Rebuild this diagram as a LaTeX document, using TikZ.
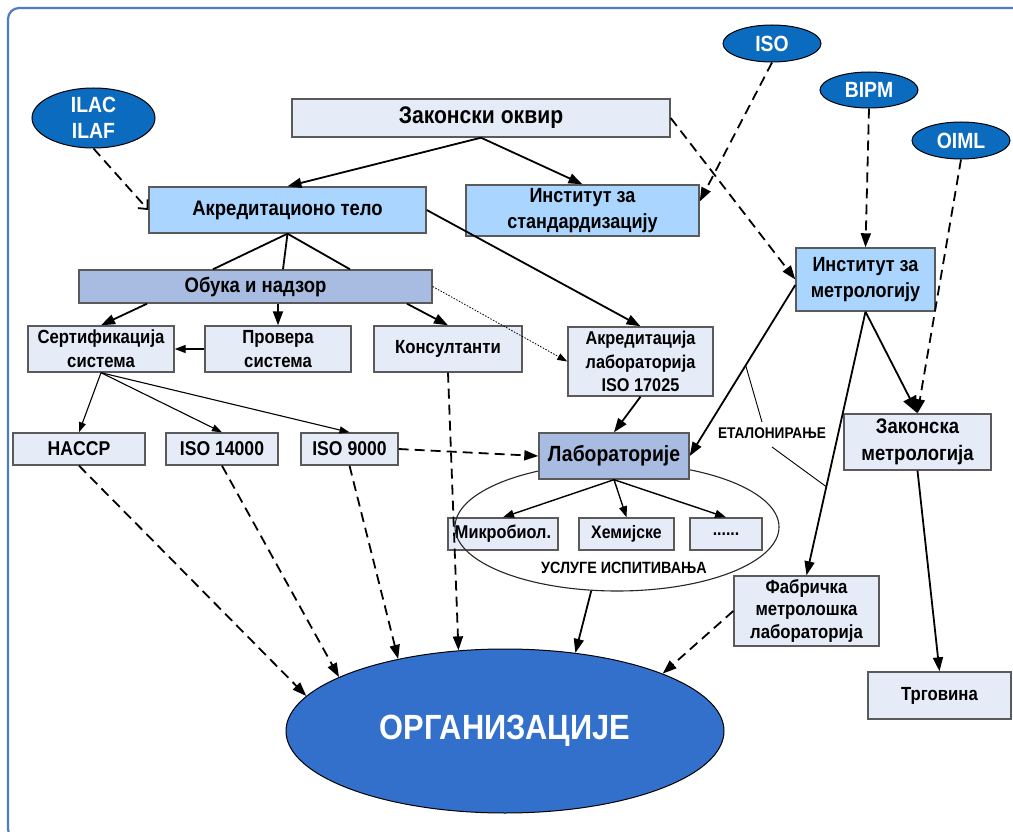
\documentclass[tikz,border=0pt]{standalone}
\usepackage{fontspec}
\setmainfont{Liberation Sans}[FakeStretch=0.88]
\usetikzlibrary{arrows.meta,shapes.geometric,calc}
\definecolor{boxlight}{HTML}{E5ECF8}
\definecolor{boxblue}{HTML}{A9D5FE}
\definecolor{boxmid}{HTML}{A8BCE1}
\definecolor{ovalblue}{HTML}{0B6BBF}
\definecolor{orgblue}{HTML}{3270CC}
\definecolor{framecol}{HTML}{4F7DC0}
\definecolor{edgegray}{HTML}{5A5A5A}
\newcommand{\bxnode}[7]{\node[#6, minimum width={#4-#2}, minimum height={#5-#3}] (#1) at ({(#2+#4)/2},{(#3+#5)/2}) {#7};}
\tikzset{
  fs/.style 2 args={font=\bfseries\fontsize{#1}{#2}\selectfont},
  bx/.style={draw=edgegray, line width=1.4pt, rectangle, inner sep=0pt, align=center},
  lightbox/.style={bx, fill=boxlight},
  bluebox/.style={bx, fill=boxblue},
  midbox/.style={bx, fill=boxmid},
  oval/.style={ellipse, draw=black, line width=1pt, fill=ovalblue, text=white, inner sep=0pt, align=center, fs={22}{26}},
  arr/.style={line width=1.8pt, -{Triangle[length=14pt,width=10pt]}},
  bigarr/.style={line width=1.8pt, -{Triangle[length=17pt,width=14pt]}},
  medarr/.style={line width=1.4pt, -{Triangle[length=11pt,width=8pt]}},
  thinarr/.style={line width=1.1pt, -{Triangle[length=10pt,width=7pt]}},
  darr/.style={arr, dash pattern=on 10pt off 6pt},
  barbarr/.style={line width=1.8pt, dash pattern=on 10pt off 6pt, -{Straight Barb[length=7pt,width=13pt]}},
  dotarr/.style={line width=0.8pt, dash pattern=on 1.5pt off 1.5pt, -{Triangle[length=10pt,width=7pt]}},
  leader/.style={line width=0.9pt}
}
\begin{document}
\begin{tikzpicture}[x=1pt,y=-1pt]
\fill[white] (0,0) rectangle (1013,832);
\useasboundingbox (0,0) rectangle (1013,832);
\begin{scope}
\clip (0,0) rectangle (1013,832);
\draw[framecol, line width=2.2pt, rounded corners=11pt] (8,8) rectangle (1040,840);
\end{scope}

% ovals
\node[oval, minimum width=123, minimum height=60] (ilac) at (93.5,118) {ILAC\\ILAF};
\node[oval, minimum width=98, minimum height=37] (iso) at (772,43.5) {ISO};
\node[oval, minimum width=98, minimum height=36] (bipm) at (869,90) {BIPM};
\node[oval, minimum width=98, minimum height=37] (oiml) at (961,140.5) {OIML};

% boxes
\bxnode{zak}{292}{99}{670}{137}{lightbox, fs={24}{28}}{Законски оквир}
\bxnode{akr}{149}{187}{426}{233}{bluebox, fs={21}{25}}{Акредитационо тело}
\bxnode{ist}{466}{185}{699}{236}{bluebox, fs={20.5}{26}}{Институт за\\стандардизацију}
\bxnode{im}{796}{248}{935}{311}{bluebox, fs={20.5}{26}}{Институт за\\метрологију}
\bxnode{obuka}{79}{270}{432}{303}{midbox, fs={21}{25}}{Обука и надзор}
\bxnode{sert}{28}{326}{174}{372}{lightbox, fs={19}{24}}{Сертификација\\система}
\bxnode{prov}{205}{326}{351}{372}{lightbox, fs={19}{24}}{Провера\\система}
\bxnode{kons}{374}{326}{522}{372}{lightbox, fs={19}{24}}{Консултанти}
\bxnode{al}{568}{327}{713}{396}{lightbox, fs={18.5}{23.5}}{Акредитација\\лабораторија\\ISO 17025}
\bxnode{haccp}{13}{433}{145}{465}{lightbox, fs={20}{24}}{HACCP}
\bxnode{iso14}{166}{433}{278}{465}{lightbox, fs={20}{24}}{ISO 14000}
\bxnode{iso9}{301}{433}{398}{465}{lightbox, fs={20}{24}}{ISO 9000}
\bxnode{mik}{448}{518}{558}{550}{lightbox, fs={18.5}{20}}{Микробиол.}
\bxnode{hem}{579}{518}{674}{550}{lightbox, fs={18}{20}}{Хемијске}
\bxnode{dots}{690}{518}{762}{550}{lightbox, fs={18}{20}}{......}
\node[ellipse, draw=black!85, line width=1.1pt, minimum width=324, minimum height=128, inner sep=0pt] (usl) at (617,527) {};
\node[fs={16.3}{18}, inner sep=0pt] (usltxt) at (624,568) {УСЛУГЕ ИСПИТИВАЊА};
\bxnode{lab}{539}{433}{689}{479}{midbox, fs={22}{26}}{Лабораторије}
\bxnode{zm}{844}{414}{991}{470}{lightbox, fs={21}{27}}{Законска\\метрологија}
\bxnode{fab}{734}{576}{879}{646}{lightbox, fs={19}{22.5}}{Фабричка\\метролошка\\лабораторија}
\bxnode{trg}{868}{672}{1011}{719}{lightbox, fs={19}{22}}{Трговина}
\node[fs={15.5}{17}, inner sep=0pt] (etal) at (772,433) {ЕТАЛОНИРАЊЕ};
\node[ellipse, draw=black, line width=1pt, fill=orgblue, text=white, minimum width=438, minimum height=164, inner sep=0pt, fs={35}{40}] (org) at (505,731) {ОРГАНИЗАЦИЈЕ};

% connectors
\draw[arr] (zak.south) -- (akr.north);
\draw[arr] (zak.south) -- (ist.north);
\draw[darr] (zak.east) -- (im.west);
\draw[darr] (iso.south) -- ([yshift=9pt]ist.east);
\draw[darr] (bipm.south) -- (im.north);
\draw[darr] (oiml.south) -- (zm.north);
\draw[barbarr] (ilac.south) -- (akr.west);
\draw[line width=1.8pt] (akr.south) -- ([xshift=-42.5pt]obuka.north);
\draw[line width=1.8pt] (akr.south) -- ([xshift=27.5pt]obuka.north);
\draw[line width=1.8pt] (akr.south) -- ([xshift=94.5pt]obuka.north);
\draw[arr] (akr.east) -- (al.north);
\draw[arr] ([xshift=-108.5pt]obuka.south) -- (sert.north);
\draw[arr] (prov.north |- obuka.south) -- (prov.north);
\draw[arr] ([xshift=151.5pt]obuka.south) -- (kons.north);
\draw[dotarr] (obuka.east) -- (al.west);
\draw[medarr] (prov.west) -- (sert.east);
\draw[thinarr] (sert.south) -- (haccp.north);
\draw[thinarr] (sert.south) -- (iso14.north);
\draw[thinarr] (sert.south) -- (iso9.north);
\draw[darr] (iso9.east) -- (lab.west);
\draw[arr] (al.south) -- (lab.north);
\draw[arr] ([yshift=-5.5pt]im.west) -- (lab.east);
\draw[arr] (im.south) -- (fab.north);
\draw[bigarr] (im.south) -- (zm.north);
\draw[arr] (zm.south) -- (trg.north);
\draw[medarr] (lab.south) -- (mik.north);
\draw[medarr] (lab.south) -- (hem.north);
\draw[medarr] (lab.south) -- (dots.north);
\draw[darr] (haccp.south) -- (org.170);
\draw[darr] (iso14.south) -- (org.162);
\draw[darr] (iso9.south) -- (org.146);
\draw[darr] (kons.south) -- (org.120.6);
\draw[arr] (usl.248) -- (org.48.5);
\draw[darr] (fab.west) -- (org.20);

% leader lines of the label
\path ([yshift=-5.5pt]im.west) -- (lab.east) coordinate[pos=0.47] (e1);
\path (im.south) -- (fab.north) coordinate[pos=0.664] (e2);
\draw[leader] (e1) -- ([xshift=-10pt,yshift=11pt]etal.center);
\draw[leader] ([yshift=-14pt]etal.center) -- (e2);
\end{tikzpicture}
\end{document}
